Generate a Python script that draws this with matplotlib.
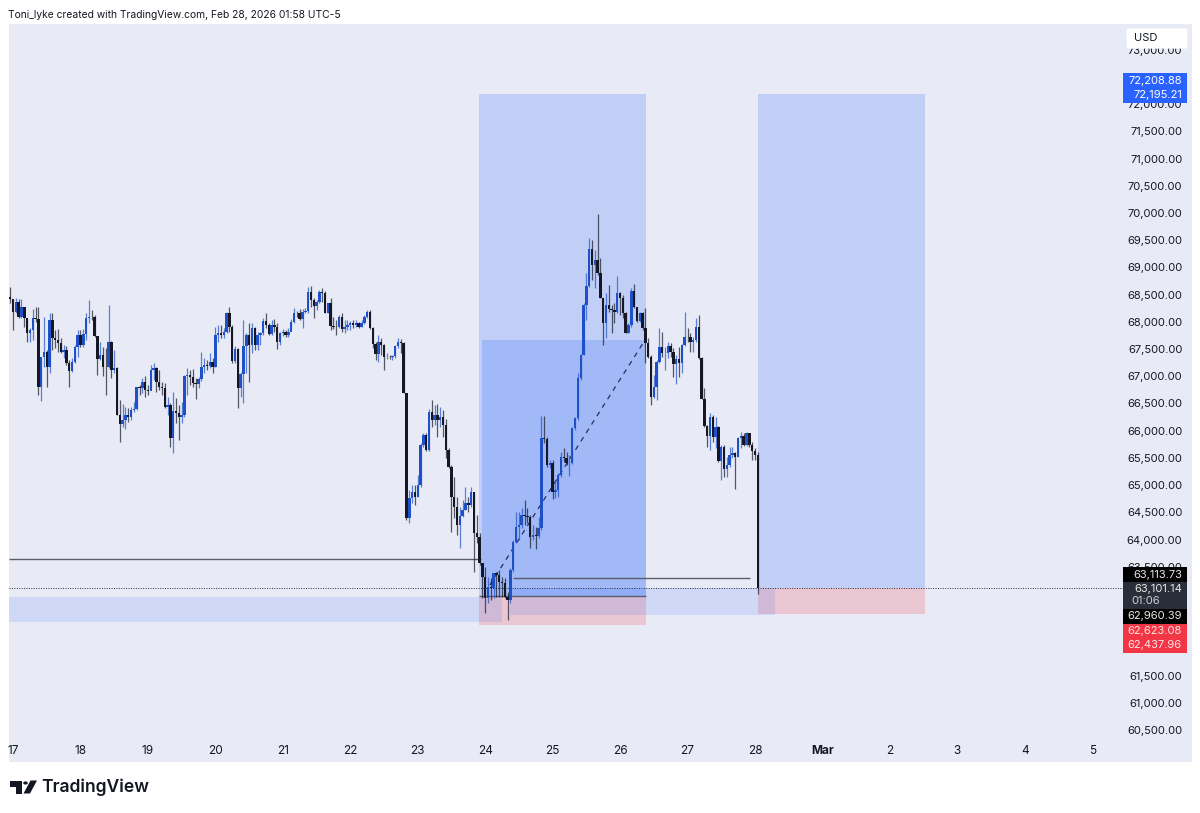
import numpy as np
import matplotlib.pyplot as plt
from matplotlib.patches import Rectangle, Polygon, Circle, FancyBboxPatch

plt.rcParams['font.family'] = ['Inter', 'DejaVu Sans']

# hourly candles, Feb 17 - Feb 28
first_open = 68450
closes = [68414, 68187, 68371, 68096, 68279, 68065, 67789, 67851, 68065, 68047,
          66809, 67348, 67452, 67177, 68034, 67697, 67667, 67606, 67452, 67483,
          67250, 67103, 67269, 67544, 67759, 67575, 67777, 68065, 68096, 68084,
          67740, 67312, 67391, 67177, 67165, 67636, 67116, 67146, 66289, 66123,
          66197, 66289, 66258, 66381, 66393, 66797, 66779, 66901, 66748, 66736,
          67116, 67146, 66901, 66797, 66779, 66442, 66472, 65860, 66368, 66331,
          66258, 66289, 67005, 67024, 66993, 66870, 66858, 66944, 67177, 67207,
          67189, 67269, 67177, 67759, 67789, 67759, 67820, 68169, 67912, 67287,
          67495, 66779, 67042, 67557, 67759, 67575, 67881, 67575, 67759, 67789,
          68022, 67942, 67777, 67942, 67912, 67636, 67789, 67820, 67759, 67820,
          68004, 68169, 68157, 68047, 68187, 68206, 68555, 68402, 68292, 68371,
          68555, 68524, 68169, 68340, 67924, 67912, 67900, 68096, 67863, 67912,
          67942, 67973, 67942, 67973, 67900, 67973, 68096, 68187, 67881, 67593,
          67410, 67636, 67575, 67348, 67361, 67348, 67373, 67557, 67636, 67618,
          66687, 64390, 64757, 64880, 64788, 65002, 65737, 65921, 65645, 66350,
          66197, 66289, 66197, 66258, 66105, 65645, 65327, 64788, 64592, 64267,
          64433, 64543, 64678, 64635, 64880, 64115, 64053, 63563, 63318, 62920,
          63134, 63104, 63379, 63349, 63226, 63196, 62938, 62889, 63440, 63961,
          64237, 64267, 64451, 64433, 64420, 64053, 64084, 64065, 64206, 65860,
          65842, 65370, 65413, 64880, 64910, 65186, 65523, 65492, 65400, 65413,
          66044, 66227, 66962, 67391, 68310, 68659, 69332, 69045, 69136, 68904,
          68432, 67973, 68310, 68230, 68218, 68187, 68536, 68432, 68157, 67801,
          67942, 68573, 68279, 68022, 68157, 67881, 67605, 67360, 66625, 66809,
          67268, 67544, 67421, 67434, 67556, 67452, 67225, 67311, 67250, 67575,
          67728, 67716, 67636, 67666, 67911, 67330, 66576, 66086, 65902, 66258,
          65890, 66074, 65449, 65695, 65290, 65370, 65553, 65584, 65523, 65860,
          65902, 65737, 65952, 65737, 65633, 65553, 63101]
highs = [68647, 68414, 68432, 68414, 68414, 68218, 68065, 67881, 68230, 68279,
         68279, 67348, 68096, 67483, 68169, 68169, 67851, 67863, 67697, 67575,
         67557, 67299, 67330, 67575, 67851, 67851, 67863, 68157, 68402, 68218,
         68126, 67740, 67636, 67544, 67514, 68310, 67648, 67483, 67177, 66564,
         66485, 66442, 66411, 66442, 66534, 66809, 66840, 66962, 67005, 66840,
         67207, 67250, 67177, 67116, 66901, 66870, 66625, 66503, 66717, 66595,
         66472, 66534, 67024, 67146, 67116, 67128, 66962, 66993, 67452, 67330,
         67299, 67422, 67330, 67912, 67942, 67942, 67881, 68187, 68267, 67942,
         67557, 67514, 67085, 68034, 67789, 67973, 67973, 67912, 67820, 67820,
         68065, 68169, 67973, 68034, 68047, 67973, 67820, 67863, 67851, 67881,
         68047, 68249, 68206, 68230, 68230, 68249, 68647, 68659, 68432, 68402,
         68586, 68616, 68573, 68353, 68432, 68096, 68034, 68126, 68169, 68034,
         68034, 68022, 68034, 68034, 68004, 68034, 68126, 68218, 68218, 67900,
         67636, 67759, 67697, 67593, 67422, 67391, 67391, 67575, 67697, 67679,
         67636, 66687, 64910, 65002, 65002, 65186, 65768, 65952, 65964, 66393,
         66564, 66472, 66491, 66430, 66380, 66209, 65676, 65370, 65155, 64788,
         64604, 64727, 64972, 64788, 64972, 64880, 64451, 64115, 63563, 63502,
         63318, 63287, 63391, 63410, 63440, 63318, 63287, 63042, 63471, 63992,
         64512, 64512, 64574, 64727, 64574, 64451, 64267, 64237, 64420, 66270,
         66270, 65890, 65462, 65462, 65094, 65217, 65615, 65676, 65615, 65554,
         66074, 66258, 67054, 67400, 68340, 68891, 69535, 69504, 69320, 69982,
         69167, 68432, 68524, 68677, 68310, 68340, 68842, 68555, 68493, 68187,
         67973, 68616, 68695, 68279, 68187, 68187, 68248, 67697, 67391, 67023,
         67299, 67881, 67820, 67544, 67636, 67618, 67513, 67391, 67544, 67593,
         68187, 67881, 67789, 67728, 68065, 68126, 67360, 66778, 66105, 66319,
         66289, 66258, 66086, 65737, 65737, 65523, 65707, 65707, 65615, 65890,
         65982, 65952, 65982, 65952, 65798, 65676, 65600]
lows = [68340, 67851, 68157, 68065, 68065, 67912, 67636, 67636, 67667, 68004,
        66656, 66552, 67177, 66809, 67054, 67483, 67514, 67452, 67422, 67330,
        67207, 66809, 67085, 67238, 67361, 67544, 67544, 67667, 67973, 68034,
        67728, 67024, 67299, 67005, 66656, 67146, 66962, 67054, 66289, 65799,
        66074, 66025, 66166, 66197, 66350, 66381, 66656, 66687, 66625, 66656,
        66797, 66932, 66717, 66748, 66656, 66411, 66289, 65707, 65584, 66136,
        65829, 66136, 66258, 66656, 66840, 66809, 66577, 66779, 66920, 67054,
        67116, 67146, 67054, 67165, 67636, 67697, 67697, 67800, 67820, 67238,
        67238, 66411, 66625, 66515, 67054, 66901, 67422, 67483, 67483, 67575,
        67759, 67881, 67759, 67759, 67820, 67495, 67575, 67740, 67728, 67728,
        67863, 67973, 68096, 68034, 67881, 68157, 68157, 68279, 68065, 68218,
        68340, 68371, 68157, 68157, 67851, 67863, 67759, 67881, 67820, 67789,
        67851, 67851, 67881, 67912, 67881, 67900, 67961, 68065, 67863, 67514,
        67299, 67269, 67391, 67116, 67312, 67312, 67299, 67330, 67514, 67422,
        66687, 64350, 64298, 64665, 64635, 64776, 64972, 65707, 65633, 65633,
        66074, 66105, 65890, 66074, 65890, 65492, 65309, 64145, 64390, 64084,
        63839, 64420, 64543, 64512, 64604, 63410, 63931, 63532, 62920, 62656,
        62828, 62889, 62920, 62951, 62951, 62951, 62920, 62522, 62828, 63410,
        63931, 63992, 64206, 64267, 64298, 63839, 63992, 63820, 64022, 64176,
        65768, 65339, 65309, 64739, 64757, 64788, 65155, 65431, 65370, 65168,
        65388, 66013, 66197, 66932, 67391, 68034, 68647, 68769, 68616, 68861,
        68432, 67575, 67697, 68187, 67789, 67973, 68157, 68126, 68065, 67789,
        67789, 67911, 68248, 68003, 68003, 67850, 67238, 67330, 66472, 66595,
        66564, 67238, 67360, 67115, 67330, 67360, 66993, 66858, 66993, 67054,
        67556, 67636, 67452, 67452, 67636, 67311, 66576, 66074, 65707, 65645,
        65798, 65676, 65431, 65094, 65155, 65155, 65339, 65492, 64923, 65523,
        65676, 65719, 65719, 65707, 65462, 65462, 63000]

# 72,500 / 63,000 / 62,500 / 62,000 are fully covered by the price tags
y_ticks = [60500, 61000, 61500, 63500, 64000, 64500, 65000,
           65500, 66000, 66500, 67000, 67500, 68000, 68500, 69000, 69500, 70000,
           70500, 71000, 71500, 72000, 73000]
x_days = [17, 18, 19, 20, 21, 22, 23, 24, 25, 26, 27, 28, 29, 30, 31, 32, 33]
x_labels = ['17', '18', '19', '20', '21', '22', '23', '24', '25', '26', '27', '28',
            'Mar', '2', '3', '4', '5']

BG = '#e8ebf6'
BLUE = '#2962ff'
RED = '#f23645'
UP = '#1e50c8'
DOWN = '#151824'
INK = '#131722'

fig = plt.figure(figsize=(12, 8.13), dpi=100, facecolor='white')
ax = fig.add_axes([9 / 1200, 51 / 813, 1183 / 1200, 738 / 813], facecolor=BG)
ax.set_xlim(16.94, 34.48)
ax.set_ylim(59912, 73473)
for s in ax.spines.values():
    s.set_visible(False)

# position boxes
ax.fill_between([23.91, 26.385], 62960.39, 72195.21, color=BLUE, alpha=0.2, lw=0, zorder=1)
ax.fill_between([23.953, 26.385], 62960.39, 67666, color=BLUE, alpha=0.2, lw=0, zorder=1)
ax.fill_between([23.91, 26.385], 62437.96, 62960.39, color=RED, alpha=0.2, lw=0, zorder=1)
ax.fill_between([28.04, 30.516], 63113.73, 72195.21, color=BLUE, alpha=0.2, lw=0, zorder=1)
ax.fill_between([28.04, 30.516], 62623.08, 63113.73, color=RED, alpha=0.2, lw=0, zorder=1)
# pale zones
ax.fill_between([16.94, 24.25], 62485, 62944, color=BLUE, alpha=0.13, lw=0, zorder=1)
ax.fill_between([24.368, 28.297], 62613, 63101, color=BLUE, alpha=0.13, lw=0, zorder=1)

ax.hlines(63642, 16.94, 23.94, color='#5a5e68', lw=1, zorder=2)
ax.hlines(63293, 24.413, 27.927, color='#5a5e68', lw=1, zorder=2)
ax.hlines(62960.39, 23.91, 26.385, color='#5a5e68', lw=1, zorder=2)
ax.hlines(63101.14, 16.94, 33.49, color='#2a2e39', lw=0.7, linestyles=(0, (1, 1.5)), zorder=2)
ax.plot([24.07, 26.37], [63164, 67666], color='#22315c', lw=0.9, ls=(0, (4, 4)), zorder=2)

# candles
closes = np.array(closes)
opens = np.concatenate([[first_open], closes[:-1]])
days = 17 + (np.arange(len(closes)) - 1) / 24
colors = [UP if c >= o else DOWN for o, c in zip(opens, closes)]
ax.vlines(days, lows, highs, colors=colors, lw=0.9, alpha=0.7, zorder=3)
ax.bar(days, closes - opens, bottom=opens, width=0.036, color=colors, lw=0, zorder=4)

# axis labels sit inside the panel, as on the chart
ax.yaxis.tick_right()
ax.set_yticks(y_ticks)
ax.set_yticklabels([f'{v:,.2f}' for v in y_ticks], ha='right', color=INK, fontsize=8)
ax.tick_params(axis='y', length=0, pad=-7)
ax.set_xticks(x_days)
ax.set_xticklabels(x_labels, color=INK, fontsize=8.5)
ax.get_xticklabels()[12].set_fontweight('bold')
ax.tick_params(axis='x', length=0, pad=-12)


def fx(x):
    return x / 1200


def fy(y):
    return 1 - y / 813


def box(x0, y0, x1, y1, color):
    fig.add_artist(Rectangle((fx(x0), fy(y1)), fx(x1 - x0), (y1 - y0) / 813,
                             transform=fig.transFigure, color=color, lw=0, zorder=5))


def label(y, s, color='white'):
    fig.text(fx(1182), fy(y), s, ha='right', va='center', color=color, fontsize=8, zorder=6)


# price tags on the scale
box(1123, 73, 1187, 103, BLUE)
label(80.5, '72,208.88')
label(95, '72,195.21')
box(1123, 567, 1187, 582, '#000000')
label(575, '63,113.73', '#e8e8e8')
box(1123, 582, 1187, 609, '#2a2e39')
label(589, '63,101.14', '#e8e8e8')
fig.text(fx(1131), fy(601), '01:06', ha='left', va='center', color='#d0d2d8', fontsize=8, zorder=6)
box(1123, 609, 1187, 624, '#000000')
label(616, '62,960.39', '#e8e8e8')
box(1123, 624, 1187, 653, RED)
label(631, '62,623.08', '#fde4e6')
label(645, '62,437.96', '#fde4e6')

fig.add_artist(FancyBboxPatch((fx(1129), fy(47)), fx(56), 17 / 813,
                              boxstyle='round,pad=0.002', transform=fig.transFigure,
                              fc='white', ec='none', zorder=5))
fig.text(fx(1134), fy(38), 'USD', ha='left', va='center', color=INK, fontsize=8, zorder=6)

fig.text(fx(8), fy(15.5), 'Toni_lyke created with TradingView.com, Feb 28, 2026 01:58 UTC-5',
         ha='left', va='center', color=INK, fontsize=7.4)

# TradingView logo
logo = [[(10, 780.5), (22, 780.5), (22, 793.5), (16, 793.5), (16, 787), (10, 787)],
        [(30.5, 780.5), (37, 780.5), (30, 793.5), (23.5, 793.5)]]
for pts in logo:
    fig.add_artist(Polygon([(fx(x), fy(y)) for x, y in pts], transform=fig.transFigure,
                           color='#131722', lw=0))
fig.add_artist(Circle((fx(25.5), fy(783)), 2.3 / 1200, transform=fig.transFigure,
                      color='#131722', lw=0))
fig.text(fx(41), fy(787), 'TradingView', ha='left', va='center', color='#131722',
         fontsize=12.6, fontweight='semibold')

fig.savefig('out.png', dpi=100)
